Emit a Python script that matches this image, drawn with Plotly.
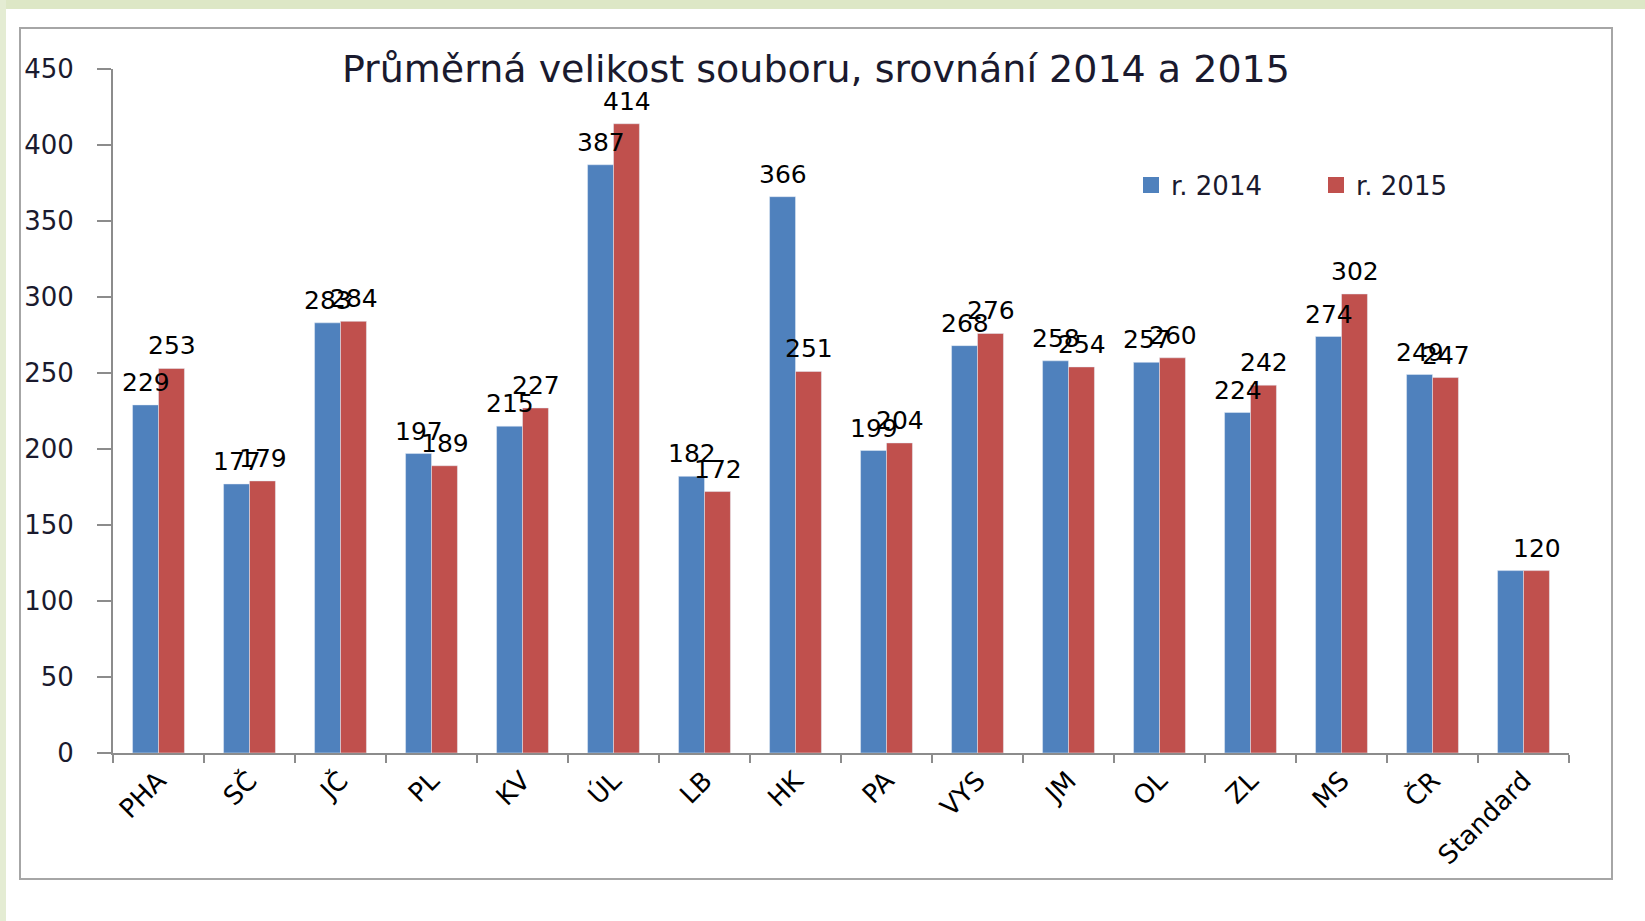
import plotly.graph_objects as go

categories = ["PHA", "SČ", "JČ", "PL", "KV", "ÚL", "LB", "HK", "PA", "VYS", "JM", "OL", "ZL", "MS", "ČR", "Standard"]
values_2014 = [229, 177, 283, 197, 215, 387, 182, 366, 199, 268, 258, 257, 224, 274, 249, 120]
values_2015 = [253, 179, 284, 189, 227, 414, 172, 251, 204, 276, 254, 260, 242, 302, 247, 120]
labels_2014 = [str(v) for v in values_2014[:-1]] + [""]
labels_2015 = [str(v) for v in values_2015]

FONT = "DejaVu Sans"
TXT = "#1a1a2e"
BLUE = "#4f81bd"
RED = "#c0504d"

fig = go.Figure()
fig.add_trace(go.Bar(x=categories, y=values_2014, name="r. 2014", marker_color=BLUE, showlegend=False))
fig.add_trace(go.Bar(x=categories, y=values_2015, name="r. 2015", marker_color=RED, showlegend=False))
# legend entries with larger square keys
fig.add_trace(go.Scatter(x=[None], y=[None], mode="markers", name="r. 2014",
                         marker=dict(symbol="square", size=19, color=BLUE)))
fig.add_trace(go.Scatter(x=[None], y=[None], mode="markers", name="r. 2015",
                         marker=dict(symbol="square", size=19, color=RED)))

# data labels drawn above everything
for cat, v, t in zip(categories, values_2014, labels_2014):
    if t:
        fig.add_annotation(x=cat, y=v, text=t, showarrow=False, xshift=-13, yshift=6, yanchor="bottom",
                           font=dict(family=FONT, size=25, color="#000000"))
for cat, v, t in zip(categories, values_2015, labels_2015):
    fig.add_annotation(x=cat, y=v, text=t, showarrow=False, xshift=13, yshift=6, yanchor="bottom",
                       font=dict(family=FONT, size=25, color="#000000"))

fig.update_layout(
    width=1645, height=921,
    paper_bgcolor="white", plot_bgcolor="white",
    margin=dict(l=113, r=76, t=69, b=168),
    barmode="group", bargap=0.43, bargroupgap=0,
    font=dict(family=FONT, size=25, color=TXT),
    title=dict(text="Průměrná velikost souboru, srovnání 2014 a 2015", x=0.496, xanchor="center",
               y=1 - 69 / 921, yanchor="middle", font=dict(family=FONT, size=38, color=TXT)),
    legend=dict(orientation="h", x=(1131 - 113) / 1456, y=(753 - 185) / 684, xanchor="left", yanchor="middle",
                font=dict(family=FONT, size=26, color=TXT), bgcolor="rgba(0,0,0,0)",
                itemwidth=30, entrywidth=140, traceorder="normal"),
    showlegend=True,
)
fig.update_yaxes(range=[0, 450], dtick=50, showgrid=False, showline=True, linecolor="#8c8c8c", linewidth=2,
                 ticks="outside", ticklen=14, tickcolor="#8c8c8c", tickwidth=2, zeroline=False,
                 tickfont=dict(family=FONT, size=26, color=TXT), ticklabelstandoff=18)
fig.update_xaxes(showgrid=False, showline=True, linecolor="#8c8c8c", linewidth=2, ticks="outside",
                 tickson="boundaries", ticklen=8, tickcolor="#8c8c8c", tickwidth=2, tickangle=-45,
                 tickfont=dict(family=FONT, size=26, color="#000000"))

# page decorations: green strips and chart border
fig.add_shape(type="rect", xref="paper", yref="paper", x0=-0.08, x1=1.06, y0=(753 - 9) / 684, y1=753 / 684 + 0.01,
              fillcolor="#dde7c6", line_width=0, layer="below")
fig.add_shape(type="rect", xref="paper", yref="paper", x0=-0.08, x1=(6 - 113) / 1456, y0=-0.26, y1=1.11,
              fillcolor="#e4ecd3", line_width=0, layer="below")
fig.add_shape(type="rect", xref="paper", yref="paper", x0=(20 - 113) / 1456, x1=(1612 - 113) / 1456,
              y0=(753 - 879) / 684, y1=(753 - 28) / 684, line=dict(color="#a6a6a6", width=2),
              fillcolor="rgba(0,0,0,0)", layer="below")

fig.write_html("out.html", config={"displayModeBar": False},
               post_script="document.body.style.margin='0';document.body.style.overflow='hidden';")
